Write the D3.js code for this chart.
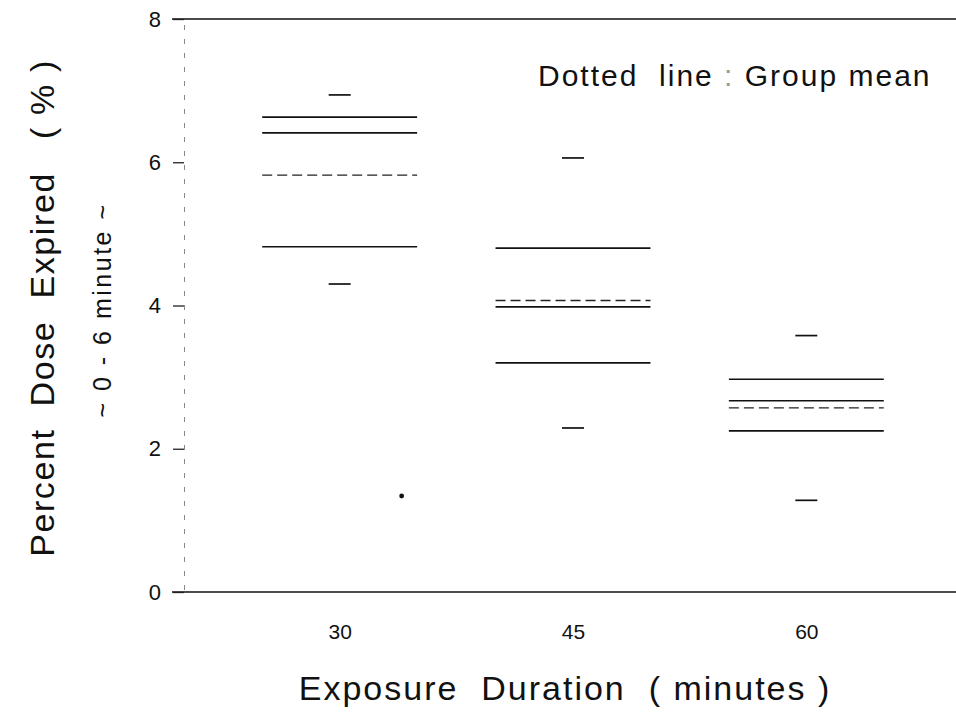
<!DOCTYPE html>
<html>
<head>
<meta charset="utf-8">
<script src="https://cdn.jsdelivr.net/npm/d3@7"></script>
<style>
  html, body { margin: 0; padding: 0; background: #fff; }
  svg { display: block; }
  text { font-family: "Liberation Sans", Arial, Helvetica, sans-serif; fill: #111; }
</style>
</head>
<body>
<svg id="chart" width="956" height="714"></svg>
<script>
// ---- data ----
const categories = ["30", "45", "60"];
const maxValues    = [6.94, 6.06, 3.58];
const q3Values     = [6.63, 4.80, 2.97];
const medianValues = [6.41, 3.98, 2.67];
const meanValues   = [5.82, 4.07, 2.57];
const q1Values     = [4.82, 3.20, 2.25];
const minValues    = [4.30, 2.29, 1.28];
const outlierCategories = ["30"];
const outlierValues     = [1.34];
const yTicks = [0, 2, 4, 6, 8];

const xTitle = "Exposure  Duration  ( minutes )";
const yTitle = "Percent  Dose  Expired   ( % )";
const ySubtitle = "~ 0 - 6 minute ~";
const noteText = ["Dotted  line ", ":", " Group mean"];

// ---- layout ----
const axisX = 184, plotRight = 956;
const svg = d3.select("#chart");

const y = d3.scaleLinear().domain([0, 8]).range([592, 19]);
const x = d3.scalePoint().domain(categories).range([188, 958]).padding(0.65);
const boxW = x.step() * 0.664;
const capW = 22;

const groups = categories.map((c, i) => ({
  c, max: maxValues[i], q3: q3Values[i], med: medianValues[i],
  mean: meanValues[i], q1: q1Values[i], min: minValues[i]
}));

// top and bottom frame lines (at y = 8 and y = 0)
svg.append("g").selectAll("line").data([8, 0]).join("line")
  .attr("x1", axisX - 12).attr("x2", plotRight)
  .attr("y1", d => y(d)).attr("y2", d => y(d))
  .attr("stroke", "#111").attr("stroke-width", 1.6);

// y axis
const yAxis = d3.axisLeft(y).tickValues(yTicks).tickSize(11).tickPadding(12)
  .tickFormat(d3.format("d"));
const gy = svg.append("g").attr("transform", `translate(${axisX},0)`).call(yAxis);
gy.select(".domain").attr("stroke", "#888").attr("stroke-width", 1)
  .attr("stroke-dasharray", "5,9");
gy.selectAll(".tick line").attr("stroke", "#222").attr("stroke-width", 1.3);
gy.selectAll(".tick text").style("font-size", "22px").attr("fill", "#111")
  .style("font-family", "'Liberation Sans', Arial, sans-serif");

// x tick labels
const xAxis = d3.axisBottom(x).tickSize(0).tickPadding(32);
const gx = svg.append("g").attr("transform", `translate(0,${y(0)})`).call(xAxis);
gx.select(".domain").remove();
gx.selectAll(".tick text").style("font-size", "21px").attr("fill", "#111")
  .style("font-family", "'Liberation Sans', Arial, sans-serif");

// box lines
const g = svg.append("g");
const solidKeys = ["q3", "med", "q1"];
groups.forEach(d => {
  const cx = x(d.c);
  solidKeys.forEach(k => {
    g.append("line")
      .attr("x1", cx - boxW / 2).attr("x2", cx + boxW / 2)
      .attr("y1", y(d[k])).attr("y2", y(d[k]))
      .attr("stroke", "#111").attr("stroke-width", 1.7);
  });
  g.append("line")
    .attr("x1", cx - boxW / 2).attr("x2", cx + boxW / 2)
    .attr("y1", y(d.mean)).attr("y2", y(d.mean))
    .attr("stroke", "#222").attr("stroke-width", 1.4)
    .attr("stroke-dasharray", "10,5");
  ["max", "min"].forEach(k => {
    g.append("line")
      .attr("x1", cx - capW / 2).attr("x2", cx + capW / 2)
      .attr("y1", y(d[k])).attr("y2", y(d[k]))
      .attr("stroke", "#111").attr("stroke-width", 1.7);
  });
});

// outlier dot(s)
outlierCategories.forEach((c, i) => {
  g.append("circle")
    .attr("cx", x(c) + boxW * 0.4).attr("cy", y(outlierValues[i]))
    .attr("r", 2.4).attr("fill", "#111");
});

// note
const note = svg.append("text").attr("x", 538).attr("y", 86)
  .style("font-size", "30px").style("letter-spacing", "2px")
  .attr("xml:space", "preserve");
note.append("tspan").text(noteText[0]);
note.append("tspan").attr("fill", "#999").text(noteText[1]);
note.append("tspan").text(noteText[2]);

// axis titles
svg.append("text").attr("x", 565).attr("y", 700).attr("text-anchor", "middle")
  .style("font-size", "34px").style("letter-spacing", "2px")
  .attr("xml:space", "preserve").text(xTitle);

svg.append("text").attr("transform", "translate(54,308) rotate(-90)")
  .attr("text-anchor", "middle").style("font-size", "34px")
  .style("letter-spacing", "1.6px")
  .attr("xml:space", "preserve").text(yTitle);

svg.append("text").attr("transform", "translate(111,310) rotate(-90)")
  .attr("text-anchor", "middle").style("font-size", "25px")
  .style("letter-spacing", "2.5px")
  .text(ySubtitle);
</script>
</body>
</html>
